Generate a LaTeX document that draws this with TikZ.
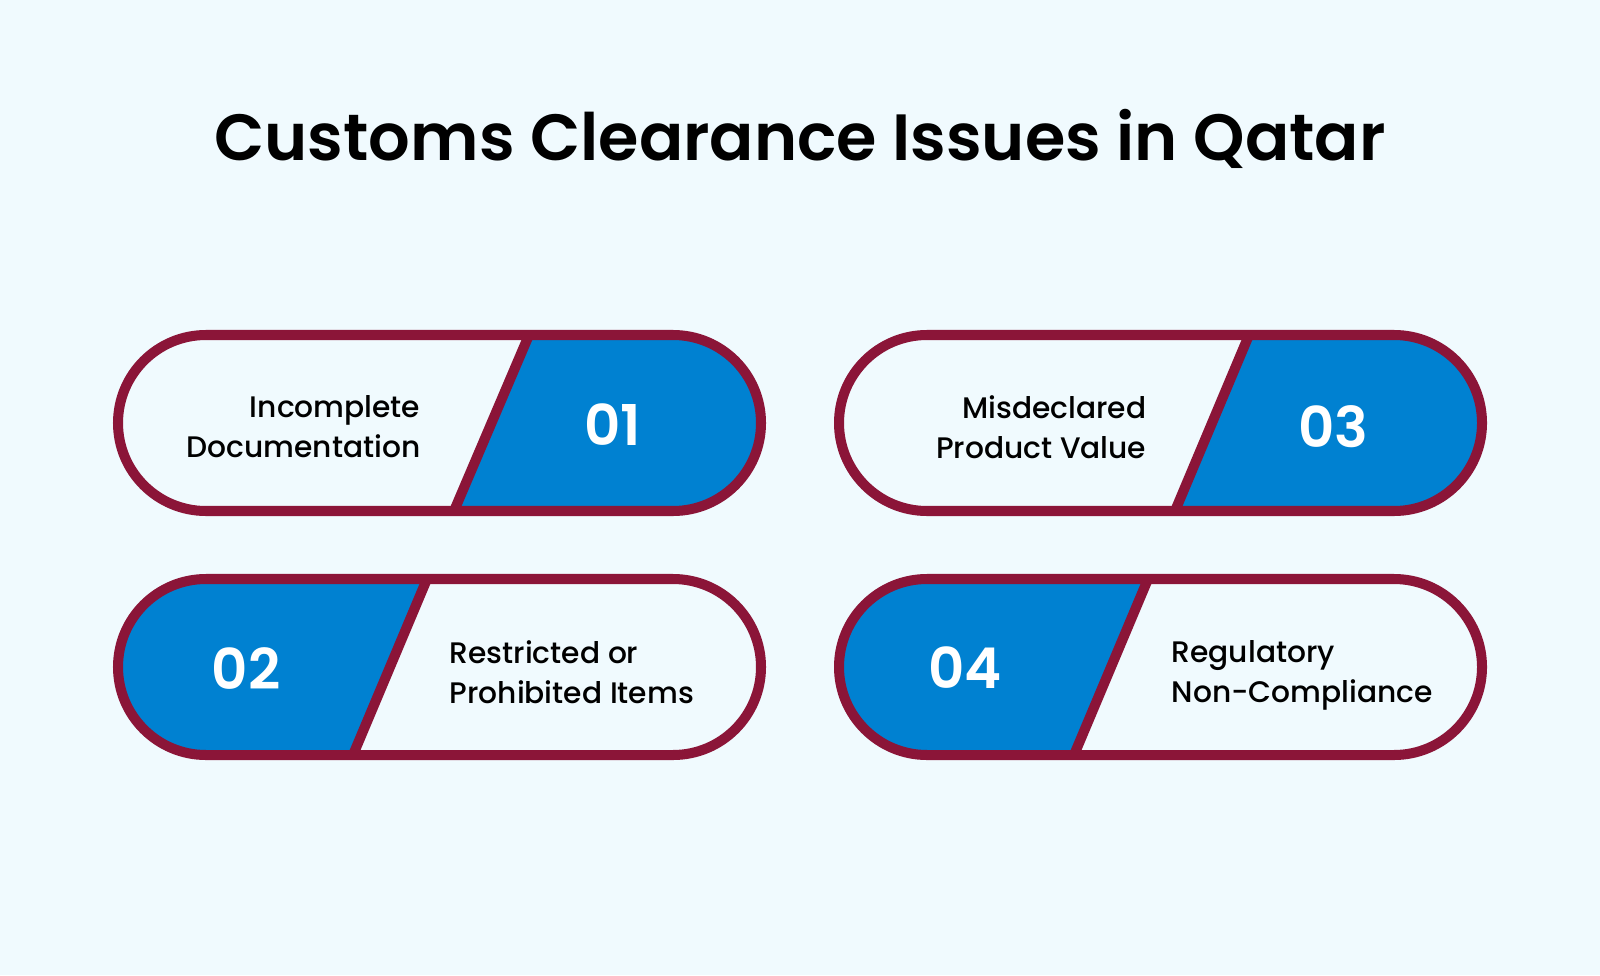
\documentclass[tikz,border=0pt]{standalone}
\usepackage{fontspec}
\setmainfont{Poppins}
\newfontfamily\titlefont{Poppins SemiBold}
\newfontfamily\itemfont{Poppins Medium}
\usepackage{tikz}
\usetikzlibrary{calc}

\definecolor{paper}{HTML}{F0FAFE}
\definecolor{rimred}{HTML}{8B1538}
\definecolor{pillblue}{HTML}{0081D1}

\begin{document}
\begin{tikzpicture}[
  rim/.style = {draw = rimred, line width = 2.85pt, line join = round},
  itemtext/.style = {inner sep = 0pt, font = \itemfont\fontsize{8.45}{11.4}\selectfont},
  numtext/.style = {inner sep = 0pt, text = white, font = \titlefont\fontsize{16}{16}\selectfont}
]
\useasboundingbox (0,0) rectangle (16,9.75);
\fill[paper] (0,0) rectangle (16,9.75);

\node[inner sep = 0pt, anchor = base, font = \titlefont\fontsize{18.6}{18.6}\selectfont] (title) at (8,8.14)
  {Customs Clearance Issues in Qatar};

% pills: left end, right end, middle y, divider top x, divider bottom x, blue on right?
\foreach \l/\r/\y/\t/\b/\right in {1.18/7.61/5.52/5.29/4.54/1, 1.18/7.61/3.08/4.27/3.53/0,
                                   8.39/14.82/5.52/12.49/11.75/1, 8.39/14.82/3.08/11.48/10.74/0}{
  \fill[paper] (\l+0.88,\y-0.88) -- (\r-0.88,\y-0.88) arc (-90:90:0.88) -- (\l+0.88,\y+0.88) arc (90:270:0.88) -- cycle;
  \begin{scope}
    \clip (\l+0.88,\y-0.88) -- (\r-0.88,\y-0.88) arc (-90:90:0.88) -- (\l+0.88,\y+0.88) arc (90:270:0.88) -- cycle;
    \ifnum\right=1
      \fill[pillblue] (\t,\y+0.88) -- (\r,\y+0.88) -- (\r,\y-0.88) -- (\b,\y-0.88) -- cycle;
    \else
      \fill[pillblue] (\t,\y+0.88) -- (\l,\y+0.88) -- (\l,\y-0.88) -- (\b,\y-0.88) -- cycle;
    \fi
  \end{scope}
  \draw[rim] (\t,\y+0.88) -- (\b,\y-0.88);
  \draw[rim] (\l+0.88,\y-0.88) -- (\r-0.88,\y-0.88) arc (-90:90:0.88) -- (\l+0.88,\y+0.88) arc (90:270:0.88) -- cycle;
}

\node[numtext] (n1) at (6.13,5.50) {01};
\node[numtext] (n2) at (2.46,3.06) {02};
\node[numtext] (n3) at (13.33,5.48) {03};
\node[numtext] (n4) at (9.65,3.07) {04};

\node[itemtext, anchor = east, align = right] (i1) at (4.21,5.48) {Incomplete\\Documentation};
\node[itemtext, anchor = west, align = left] (i2) at (4.49,3.03) {Restricted or\\Prohibited Items};
\node[itemtext, anchor = east, align = right] (i3) at (11.47,5.48) {Misdeclared\\Product Value};
\node[itemtext, anchor = west, align = left] (i4) at (11.71,3.00) {Regulatory\\Non-Compliance};

\end{tikzpicture}
\end{document}
